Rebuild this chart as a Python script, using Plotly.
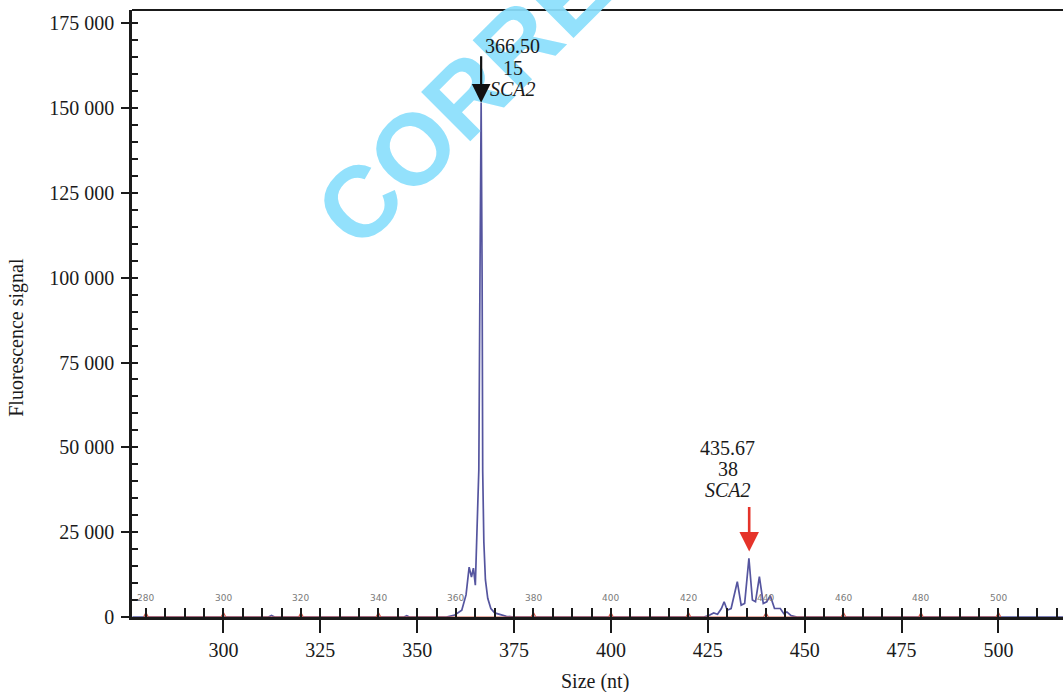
import plotly.graph_objects as go

# ---- data ----
size_nt = [276.5, 300.0, 311.6, 312.4, 313.2, 346.6, 347.3, 348.0, 357.5, 359.7, 361.5, 362.6,
           363.4, 364.0, 364.5, 365.0, 365.4, 365.9, 366.2, 366.5, 366.75, 366.9, 367.2, 367.6,
           368.2, 369.0, 370.0, 371.5, 373.0, 375.0, 424.0, 425.5, 426.5, 427.5, 428.5, 429.2,
           430.0, 431.0, 432.6, 433.6, 434.5, 435.6, 436.5, 437.3, 438.3, 439.3, 440.2, 441.1,
           442.2, 443.7, 444.6, 445.4, 446.5, 448.0, 516.7]
signal = [0, 0, 0, 450, 0, 0, 400, 0, 0, 600, 2000, 6500,
          14700, 11800, 14400, 9400, 22700, 43300, 101000, 151600, 100000, 43000, 22000, 11000,
          5500, 2500, 1200, 600, 200, 0, 0, 600, 1200, 800, 2500, 4500,
          2000, 2500, 10400, 3500, 4000, 17300, 5000, 4500, 11900, 4000, 4500, 6300,
          2500, 2500, 1000, 1500, 400, 0, 0]

std_sizes = [280, 300, 320, 340, 360, 380, 400, 420, 440, 460, 480, 500]
std_x = [279.4, 280.0, 280.6, 299.4, 300.0, 300.6, 319.4, 320.0, 320.6, 339.4, 340.0, 340.6,
         379.4, 380.0, 380.6, 399.4, 400.0, 400.6, 419.4, 420.0, 420.6, 439.4, 440.0, 440.6,
         459.4, 460.0, 460.6, 479.4, 480.0, 480.6, 499.4, 500.0, 500.6]
std_y = [0, 1300, 0, 0, 1300, 0, 0, 1300, 0, 0, 1300, 0,
         0, 1300, 0, 0, 1300, 0, 0, 1300, 0, 0, 1300, 0,
         0, 1300, 0, 0, 1300, 0, 0, 1300, 0]

y_ticks = [0, 25000, 50000, 75000, 100000, 125000, 150000, 175000]
y_ticktext = ["0", "25 000", "50 000", "75 000", "100 000", "125 000", "150 000", "175 000"]
x_ticks = [300, 325, 350, 375, 400, 425, 450, 475, 500]

peak1 = {"size": 366.50, "allele": "15", "gene": "SCA2", "height": 151600}
peak2 = {"size": 435.67, "allele": "38", "gene": "SCA2", "height": 19300}

X_RANGE = [276.4, 516.65]
Y_RANGE = [0, 178900]

SERIF = "Liberation Serif, Times New Roman, serif"
INK = "#1a1a1a"

fig = go.Figure()
fig.add_trace(go.Scatter(x=std_x, y=std_y, mode="lines",
                         line=dict(color="#d0584a", width=1.2),
                         xaxis="x2", yaxis="y2", hoverinfo="skip", showlegend=False))
fig.add_trace(go.Scatter(x=size_nt, y=signal, mode="lines",
                         line=dict(color="#55559f", width=1.7),
                         showlegend=False))

annotations = []
# watermark
annotations.append(dict(text="CORRECTED", xref="paper", yref="paper", x=0.4597, y=1.013,
                        xanchor="center", yanchor="middle", textangle=-45, showarrow=False,
                        font=dict(family="Liberation Sans, Arial, sans-serif", size=101,
                                  color="#8ADFFC", weight="bold"), opacity=0.92))
# size-standard labels
for s in std_sizes:
    annotations.append(dict(text=str(s), x=s, y=5600, xref="x", yref="y", showarrow=False,
                            font=dict(family="DejaVu Sans", size=9, color="#7a7a7a")))
# peak arrows
annotations.append(dict(text="", x=peak1["size"], y=peak1["height"], xref="x", yref="y",
                        showarrow=True, ax=0, ay=-48, arrowhead=2, arrowsize=1.7,
                        arrowwidth=2.2, arrowcolor="#111111"))
annotations.append(dict(text="", x=peak2["size"], y=peak2["height"], xref="x", yref="y",
                        showarrow=True, ax=0, ay=-46, arrowhead=2, arrowsize=1.5,
                        arrowwidth=2.6, arrowcolor="#e5332a"))
# peak labels
for xv, lines, ys in [(374.71, [f"{peak1['size']:.2f}", peak1["allele"], f"<i>{peak1['gene']}</i>"],
                       [168400, 161900, 155700]),
                      (430.19, [f"{peak2['size']:.2f}", peak2["allele"], f"<i>{peak2['gene']}</i>"],
                       [49800, 43600, 37500])]:
    for t, yv in zip(lines, ys):
        annotations.append(dict(text=t, x=xv, y=yv, xref="x", yref="y", showarrow=False,
                                xanchor="center", yanchor="middle",
                                font=dict(family=SERIF, size=20, color=INK)))
# axis titles
annotations.append(dict(text="Fluorescence signal", xref="paper", yref="y", x=0, xshift=-115,
                        y=82300, textangle=-90, showarrow=False, xanchor="center", yanchor="middle",
                        font=dict(family=SERIF, size=20, color=INK)))
annotations.append(dict(text="Size (nt)", xref="x", yref="paper", x=395.9, y=0, yshift=-64,
                        showarrow=False, xanchor="center", yanchor="middle",
                        font=dict(family=SERIF, size=20, color=INK)))

fig.update_layout(
    width=1063, height=692,
    margin=dict(l=132, r=0, t=10, b=75),
    paper_bgcolor="white", plot_bgcolor="white",
    showlegend=False,
    xaxis=dict(range=X_RANGE, tickvals=x_ticks, ticks="outside", ticklen=13, tickwidth=2.2,
               tickcolor=INK, showline=True, linecolor=INK, linewidth=2.5, showgrid=False,
               zeroline=False, tickfont=dict(family=SERIF, size=20, color=INK),
               ticklabelstandoff=0),
    yaxis=dict(range=Y_RANGE, tickvals=y_ticks, ticktext=y_ticktext, ticks="outside",
               ticklen=8, tickwidth=2.2, tickcolor=INK, showline=True, linecolor=INK,
               linewidth=2.5, showgrid=False, zeroline=False,
               tickfont=dict(family=SERIF, size=20, color=INK), ticklabelstandoff=3),
    xaxis2=dict(range=X_RANGE, overlaying="x", anchor="y", side="bottom", dtick=5, tick0=0,
                ticks="inside", ticklen=9, tickwidth=1.8, tickcolor=INK, showticklabels=False,
                showline=False, showgrid=False, zeroline=False),
    yaxis2=dict(range=Y_RANGE, overlaying="y", anchor="x", side="left", dtick=5000, tick0=0,
                ticks="inside", ticklen=6, tickwidth=2.2, tickcolor=INK, showticklabels=False,
                showline=False, showgrid=False, zeroline=False),
    shapes=[dict(type="line", xref="paper", yref="paper", x0=0, x1=1, y0=1, y1=1,
                 line=dict(color=INK, width=2.2), layer="below")],
    annotations=annotations,
)

fig.write_html("out.html")
